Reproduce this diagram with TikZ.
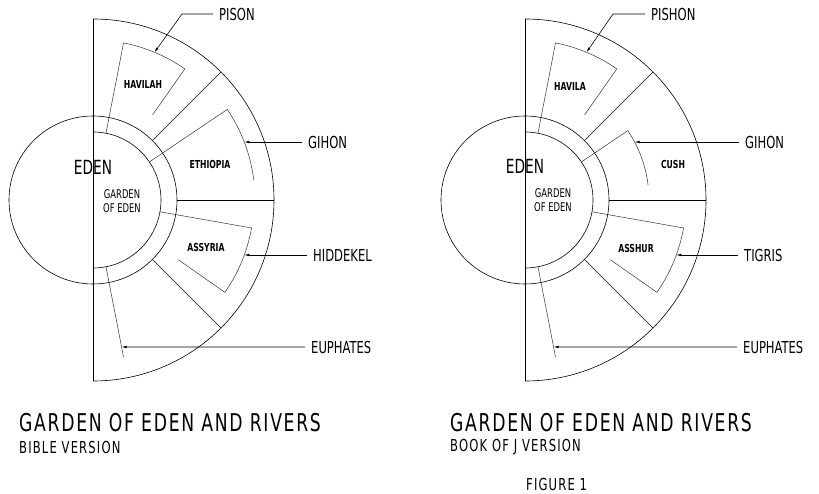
\documentclass[tikz,border=0pt]{standalone}
\usepackage{fontspec}
\setmainfont{DejaVu Sans Condensed}[FakeStretch=0.78]
\newfontfamily\titlefont{DejaVu Sans Condensed}[FakeStretch=0.78,LetterSpace=7]
\usetikzlibrary{arrows.meta,calc}

\tikzset{
  plan/.style={line width=0.6pt, black},
  sector/.style={line width=0.5pt, black!80},
  leader/.style={line width=0.6pt, black, -{Latex[length=5pt,width=2.6pt]}},
  river/.style={font=\fontsize{16.5}{16.5}\selectfont, inner xsep=6pt, inner ysep=0pt, anchor=west},
  land/.style={font=\fontsize{11}{11}\selectfont\bfseries, inner sep=0pt},
  garden/.style={font=\fontsize{12}{13.5}\selectfont, inner sep=0pt, align=center},
  eden/.style={font=\fontsize{19.5}{19.5}\selectfont, inner sep=0pt},
  headline/.style={font=\titlefont\fontsize{24.5}{24.5}\selectfont, inner sep=0pt, anchor=west},
  subline/.style={font=\titlefont\fontsize{16.5}{16.5}\selectfont, inner sep=0pt, anchor=west},
}

\begin{document}
\begin{tikzpicture}[x=1pt, y=1pt]
  \useasboundingbox (0,0) rectangle (819,493);

  % Plan of both versions: centre x / radius of the middle river arc
  \foreach \cx/\cr in {93/162, 525/124}
  {%
    \begin{scope}[shift={(\cx,293)}]
      % outer half disc and diameter
      \draw[plan] (0,181) -- (0,-181);
      \draw[plan] (90:181) arc (90:-90:181);
      % Eden circle and the garden
      \draw[plan] (0,0) circle (84);
      \draw[plan] (90:68) arc (90:-90:68);
      % dividers of the four lands
      \draw[plan] (0:84) -- (0:181);
      \draw[plan] (45:84) -- (45:181);
      \draw[plan] (-45:84) -- (-45:181);
      % rivers
      \draw[sector] (79:68) -- (79:160) arc (79:55:160) -- (55:104);
      \draw[sector] (34:68) -- (34:\cr) arc (34:7:\cr);
      \draw[sector] (-10:68) -- (-10:161) arc (-10:-35:161) -- (-35:104);
      \draw[sector] (-79:68) -- (-79:160);
    \end{scope}
  }

  % Bible version
  \begin{scope}[shift={(93,293)}]
    \node[eden] (edenl) at (0,33) {EDEN};
    \node[garden] (gardenl) at (29,-1) {GARDEN\\OF EDEN};
    \node[land] (havilah) at (50,116) {HAVILAH};
    \node[land] (ethiopia) at (117,36) {ETHIOPIA};
    \node[land] (assyria) at (113,-47) {ASSYRIA};
    \coordinate (pisonbend) at (89,186);
    \coordinate (pisontip) at (67.4:160);
    \coordinate (gihontip) at (151.3,58);
    \coordinate (hiddekeltip) at (151.3,-55);
    \coordinate (euphltip) at (-79:149.7);
    \node[river] (pison) at (120,186) {PISON};
    \node[river] (gihon) at (209,58) {GIHON};
    \node[river] (hiddekel) at (214,-55) {HIDDEKEL};
    \node[river] (euphl) at (212,-147) {EUPHATES};
    \draw[leader] (pison.west) -- (pisonbend) -- (pisontip);
    \draw[leader] (gihon.west) -- (gihontip);
    \draw[leader] (hiddekel.west) -- (hiddekeltip);
    \draw[leader] (euphl.west) -- (euphltip);
  \end{scope}

  % Book of J version
  \begin{scope}[shift={(525,293)}]
    \node[eden] (edenr) at (0,34) {EDEN};
    \node[garden] (gardenr) at (28,0) {GARDEN\\OF EDEN};
    \node[land] (havila) at (45,114) {HAVILA};
    \node[land] (cush) at (148,36) {CUSH};
    \node[land] (asshur) at (111,-48) {ASSHUR};
    \coordinate (pishonbend) at (88,186);
    \coordinate (pishontip) at (67.4:160);
    \coordinate (gihonrtip) at (109.6,58);
    \coordinate (tigristip) at (151.3,-55);
    \coordinate (euphrtip) at (-79:149.7);
    \node[river] (pishon) at (120,186) {PISHON};
    \node[river] (gihonr) at (214,58) {GIHON};
    \node[river] (tigris) at (213,-55) {TIGRIS};
    \node[river] (euphr) at (212,-147) {EUPHATES};
    \draw[leader] (pishon.west) -- (pishonbend) -- (pishontip);
    \draw[leader] (gihonr.west) -- (gihonrtip);
    \draw[leader] (tigris.west) -- (tigristip);
    \draw[leader] (euphr.west) -- (euphrtip);
  \end{scope}

  % Captions
  \node[headline] (titlel) at (19,70) {GARDEN OF EDEN AND RIVERS};
  \node[subline] (subl) at (19,46) {BIBLE VERSION};
  \node[headline] (titler) at (450,70) {GARDEN OF EDEN AND RIVERS};
  \node[subline] (subr) at (450,46) {BOOK OF J VERSION};
  \node[subline] (figure) at (526,9) {FIGURE 1};
\end{tikzpicture}
\end{document}
